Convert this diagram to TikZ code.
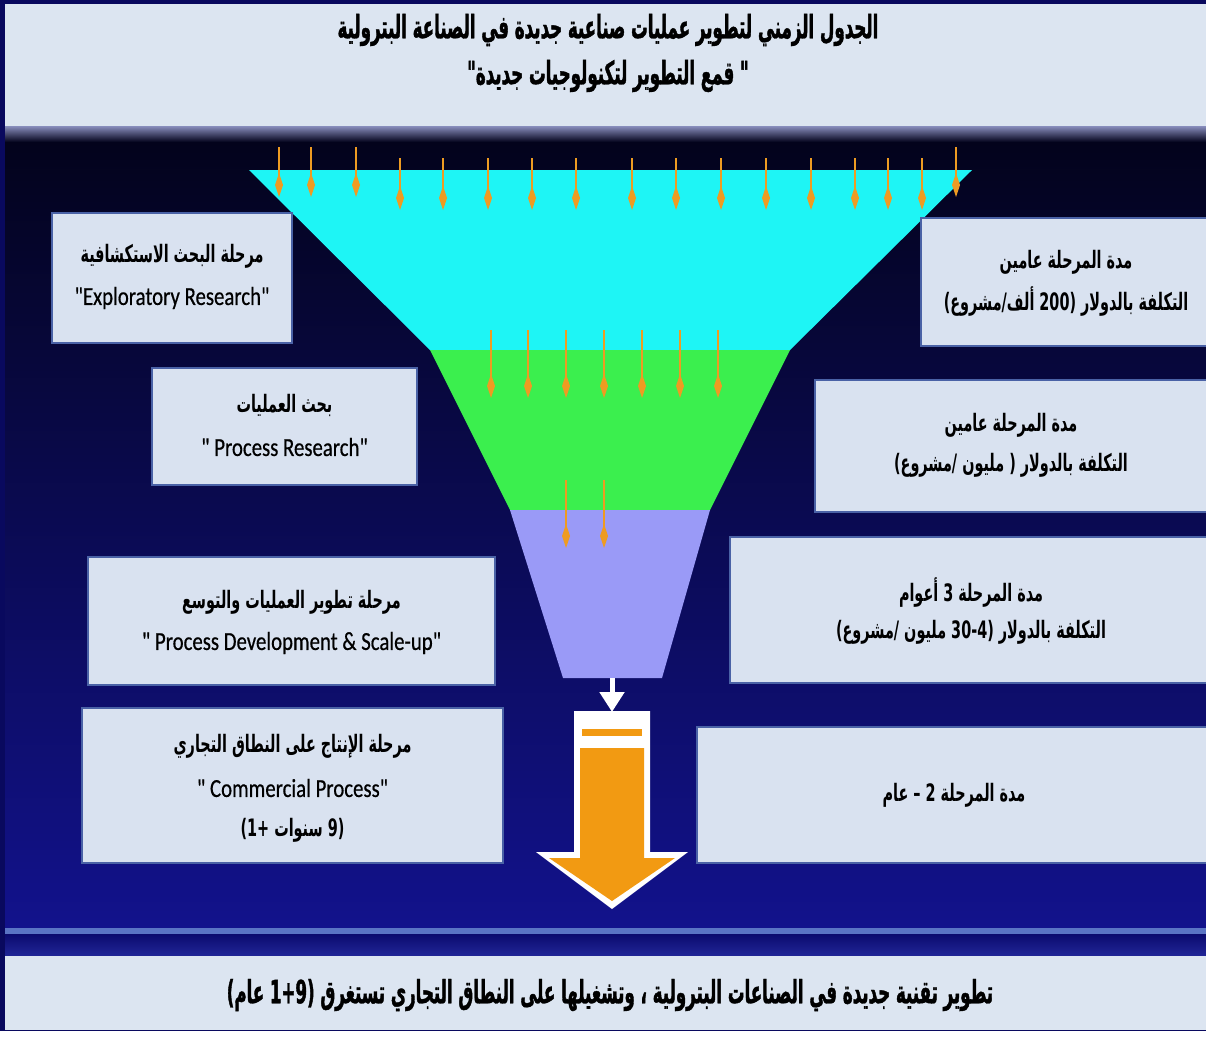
\documentclass[tikz,border=0pt]{standalone}
\usepackage{fontspec}
\usetikzlibrary{arrows.meta}
\TeXXeTstate=1
\newfontfamily\arabicfont[Script=Arabic,FakeStretch=0.6]{DejaVu Sans}
\newfontfamily\headfont[Script=Arabic,FakeStretch=0.52,FakeBold=1.2]{DejaVu Sans}
\newfontfamily\latinfont[FakeStretch=0.8,FakeBold=0.5]{Carlito}
\newcommand\ar[1]{{\arabicfont\bfseries\beginR #1\endR}}
\newcommand\hd[1]{{\headfont\bfseries\beginR #1\endR}}
\newcommand\en[1]{{\latinfont #1}}
\newcommand\ltr[1]{\beginL #1\endL{}}

\definecolor{navy}{HTML}{0B0B6E}
\definecolor{deep}{HTML}{03031C}
\definecolor{lowblue}{HTML}{12128C}
\definecolor{stripe}{HTML}{5A74C4}
\definecolor{paper}{HTML}{DCE5F1}
\definecolor{boxfill}{HTML}{D9E2F0}
\definecolor{boxedge}{HTML}{4A62A6}
\definecolor{funcyan}{HTML}{1EF5F5}
\definecolor{fungreen}{HTML}{3BEF4E}
\definecolor{funpurple}{HTML}{9A9AF7}
\definecolor{dropcol}{HTML}{EE9B22}
\definecolor{bigorange}{HTML}{F29A12}

\begin{document}
\begin{tikzpicture}[x=1pt,y=-1pt,
  panel/.style={draw=boxedge, line width=1.5pt, fill=boxfill, inner sep=0pt, outer sep=0pt},
  lbl/.style={inner sep=0pt, text=black, anchor=center},
  boxar/.style={lbl, font=\fontsize{24}{28}\selectfont},
  boxen/.style={lbl, font=\fontsize{26}{30}\selectfont},
  headline/.style={lbl, font=\fontsize{32}{38}\selectfont},
  drop/.style={draw=dropcol, line width=2.4pt, -{Kite[length=24pt,width=8pt,inset=12pt]}},
]
\useasboundingbox (0,0) rectangle (1206,1037);
\clip (0,0) rectangle (1206,1037);

% ---------- background bands ----------
\fill[navy!85!black] (0,0) rectangle (1206,1031);
\fill[paper] (5,4) rectangle (1206,126);
\shade[top color=paper!60!navy, bottom color=deep] (5,126) rectangle (1206,142);
\shade[top color=deep, bottom color=lowblue] (5,142) rectangle (1206,928);
\fill[stripe] (5,928) rectangle (1206,934);
\shade[top color=navy, bottom color=lowblue!80!stripe] (5,934) rectangle (1206,956);
\fill[paper] (5,956) rectangle (1206,1030);
\fill[white] (0,1031) rectangle (1206,1037);

% ---------- funnel ----------
\fill[funcyan]   (249,170) -- (972,170) -- (790,350) -- (430,350) -- cycle;
\fill[fungreen]  (430,350) -- (790,350) -- (710,510) -- (510,510) -- cycle;
\fill[funpurple] (510,510) -- (710,510) -- (662,678) -- (563,678) -- cycle;

% drops falling into the funnel
\foreach \x in {279,311,356,956} \draw[drop] (\x,147) -- (\x,197);
\foreach \x in {400,443,488,532,576,632,676,721,766,811,855,888,922} \draw[drop] (\x,158) -- (\x,210);
\foreach \x in {491,528,566,604,642,680,718} \draw[drop] (\x,330) -- (\x,398);
\foreach \x in {566,604} \draw[drop] (\x,480) -- (\x,548);

% ---------- outlet and big arrow ----------
\coordinate (spout) at (612,678);
\coordinate (mouth) at (612,712);
\draw[white, line width=5pt, -{Triangle[length=20pt,width=24pt]}] (spout) -- (mouth);

\fill[white] (574,711) -- (650,711) -- (650,852) -- (688,852) -- (612,909) -- (536,852) -- (574,852) -- cycle;
\fill[bigorange] (580,748) -- (644,748) -- (644,858) -- (675,858) -- (612,901) -- (549,858) -- (580,858) -- cycle;
\fill[bigorange] (582,729) rectangle (642,736);

% ---------- title ----------
\node[headline] (title1) at (608,30) {\hd{الجدول الزمني لتطوير عمليات صناعية جديدة في الصناعة البترولية}};
\node[headline] (title2) at (608,76) {\hd{" قمع التطوير لتكنولوجيات جديدة"}};

% ---------- stage boxes (left) ----------
\node[panel, minimum width=240pt, minimum height=130pt] (L1) at (172,278) {};
\node[boxar] (L1a) at (172,256) {\ar{مرحلة البحث الاستكشافية}};
\node[boxen] (L1b) at (172,298) {\en{"Exploratory Research"}};

\node[panel, minimum width=265pt, minimum height=117pt] (L2) at (284.5,426.5) {};
\node[boxar] (L2a) at (284.5,405) {\ar{بحث العمليات}};
\node[boxen] (L2b) at (284.5,447) {\en{" Process Research"}};

\node[panel, minimum width=407pt, minimum height=128pt] (L3) at (291.5,621) {};
\node[boxar] (L3a) at (291.5,602) {\ar{مرحلة تطوير العمليات والتوسع}};
\node[boxen] (L3b) at (291.5,643) {\en{" Process Development \& Scale-up"}};

\node[panel, minimum width=421pt, minimum height=155pt] (L4) at (292.5,785.5) {};
\node[boxar] (L4a) at (292.5,746) {\ar{مرحلة الإنتاج على النطاق التجاري}};
\node[boxen] (L4b) at (292.5,788) {\en{" Commercial Process"}};
\node[boxar] (L4c) at (292.5,830) {\ar{(\ltr{9} سنوات \ltr{+1})}};

% ---------- duration and cost boxes (right) ----------
\node[panel, minimum width=291pt, minimum height=128pt] (R1) at (1066.5,282) {};
\node[boxar] (R1a) at (1066,262) {\ar{مدة المرحلة عامين}};
\node[boxar] (R1b) at (1066,302) {\ar{التكلفة بالدولار (\ltr{200} ألف/مشروع)}};

\node[panel, minimum width=397pt, minimum height=132pt] (R2) at (1013.5,446) {};
\node[boxar] (R2a) at (1011,425) {\ar{مدة المرحلة عامين}};
\node[boxar] (R2b) at (1011,465) {\ar{التكلفة بالدولار ( مليون /مشروع)}};

\node[panel, minimum width=482pt, minimum height=146pt] (R3) at (971,610) {};
\node[boxar] (R3a) at (971,592) {\ar{مدة المرحلة \ltr{3} أعوام}};
\node[boxar] (R3b) at (971,632) {\ar{التكلفة بالدولار (\ltr{30-4} مليون /مشروع)}};

\node[panel, minimum width=515pt, minimum height=136pt] (R4) at (954.5,795) {};
\node[boxar] (R4a) at (954,795) {\ar{مدة المرحلة \ltr{2} – عام}};

% ---------- summary line ----------
\node[headline] (summary) at (610,995) {\hd{تطوير تقنية جديدة في الصناعات البترولية ، وتشغيلها على النطاق التجاري تستغرق (\ltr{1+9} عام)}};
\end{tikzpicture}
\end{document}
